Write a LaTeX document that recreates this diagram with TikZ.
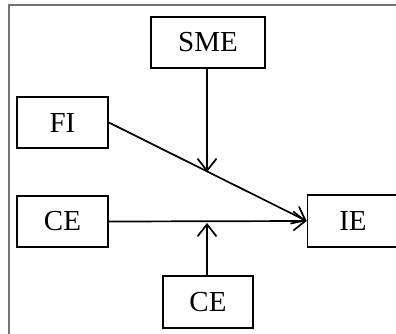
\documentclass[tikz,border=0pt]{standalone}
\usepackage{fontspec}
\setmainfont{Liberation Serif}
\usetikzlibrary{arrows.meta}
\begin{document}
\begin{tikzpicture}[x=1pt,y=-1pt,
  box/.style={draw=black,line width=1.7pt,inner sep=0pt,font=\fontsize{29}{31}\selectfont},
  conn/.style={line width=1.7pt,-{Straight Barb[length=12pt,width=19pt,line width=1.7pt]}}]
\useasboundingbox (0,0) rectangle (396,333);
\draw[gray!90!black,line width=1.4pt] (9,345) -- (9,5) -- (410,5);
\node[box,minimum width=114pt,minimum height=51pt] (sme) at (208,42.5) {SME};
\node[box,minimum width=91pt,minimum height=51pt] (fi) at (62.5,122.5) {FI};
\node[box,minimum width=91pt,minimum height=51pt] (ce1) at (62.5,221.5) {CE};
\node[box,minimum width=91pt,minimum height=52pt] (ie) at (353,221) {IE};
\node[box,minimum width=90pt,minimum height=52pt] (ce2) at (208,302) {CE};
\coordinate (m1) at (207,172);
\coordinate (m2) at (207,223);
\draw[conn] (fi.east) -- (ie.west);
\draw[conn] (ce1.east) -- (ie.west);
\draw[conn] (sme.south -| m1) -- (m1);
\draw[conn] (ce2.north -| m2) -- (m2);
\end{tikzpicture}
\end{document}
